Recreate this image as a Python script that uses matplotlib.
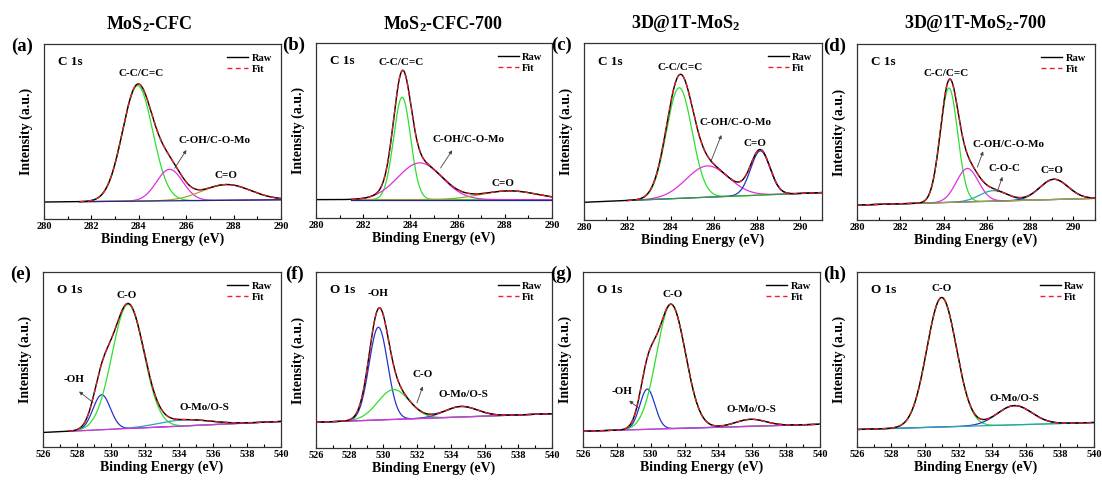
import matplotlib
matplotlib.use("Agg")
import matplotlib.pyplot as plt
import numpy as np

# ---- data (intensity in axes-fraction units) ----
SAMPLES = ["MoS$_2$-CFC", "MoS$_2$-CFC-700", "3D@1T-MoS$_2$", "3D@1T-MoS$_2$-700"]
C_TAGS = ["(a)", "(b)", "(c)", "(d)"]
O_TAGS = ["(e)", "(f)", "(g)", "(h)"]

# C 1s
C_XMAX = [290, 290, 291, 291]
C_FIT_START = [281.5, 281.5, 282.0, 280.0]
C_BASE = [(0.097, 0.11), (0.105, 0.105), (0.10, 0.155), (0.085, 0.123)]
C_CENTERS = [[283.95, 285.3, 287.7], [283.65, 284.4, 288.2],
             [284.4, 285.7, 288.15], [284.25, 285.1, 286.3, 289.1]]
C_HEIGHTS = [[0.66, 0.18, 0.09], [0.585, 0.21, 0.05],
             [0.625, 0.177, 0.25], [0.65, 0.19, 0.06, 0.115]]
C_FWHM = [[1.5, 1.3, 2.4], [0.85, 2.2, 2.8],
          [1.4, 2.3, 1.05], [0.95, 1.2, 1.5, 1.55]]

# O 1s
O_XMAX = [540, 540, 540, 540]
O_FIT_START = [527.5, 526.0, 526.0, 526.0]
O_BASE = [(0.083, 0.146), (0.146, 0.195), (0.09, 0.13), (0.10, 0.14)]
O_CENTERS = [[529.45, 531.0, 534.3], [529.7, 530.6, 534.6],
             [529.8, 531.2, 535.9], [531.0, 535.3]]
O_HEIGHTS = [[0.20, 0.71, 0.035], [0.527, 0.17, 0.06],
             [0.23, 0.71, 0.04], [0.74, 0.11]]
O_FWHM = [[1.2, 2.2, 3.5], [1.3, 2.2, 2.3],
          [1.05, 2.0, 2.1], [2.06, 2.4]]

# peak labels (text, x, y) and arrows ((x0, y0), (x1, y1)) with head at x1,y1
C_LABELS = [
    [("C-C/C=C", 284.1, 0.83), ("C-OH/C-O-Mo", 287.2, 0.45), ("C=O", 287.67, 0.25)],
    [("C-C/C=C", 283.6, 0.886), ("C-OH/C-O-Mo", 286.45, 0.45), ("C=O", 287.9, 0.20)],
    [("C-C/C=C", 284.42, 0.862), ("C-OH/C-O-Mo", 287.0, 0.55), ("C=O", 287.9, 0.43)],
    [("C-C/C=C", 284.1, 0.833), ("C-OH/C-O-Mo", 287.0, 0.43), ("C-O-C", 286.8, 0.294),
     ("C=O", 289.0, 0.28)],
]
C_ARROWS = [
    [((285.51, 0.29), (286.01, 0.394))],
    [((285.28, 0.286), (285.77, 0.387))],
    [((285.86, 0.33), (286.35, 0.48))],
    [((285.56, 0.30), (285.83, 0.39)), ((286.48, 0.16), (286.72, 0.245))],
]
O_LABELS = [
    [("C-O", 530.9, 0.867), ("-OH", 527.8, 0.383), ("O-Mo/O-S", 535.5, 0.226)],
    [("-OH", 529.7, 0.88), ("C-O", 532.3, 0.417), ("O-Mo/O-S", 534.75, 0.303)],
    [("C-O", 531.3, 0.874), ("-OH", 528.3, 0.32), ("O-Mo/O-S", 535.96, 0.215)],
    [("C-O", 531.0, 0.904), ("O-Mo/O-S", 535.3, 0.275)],
]
O_ARROWS = [
    [((528.95, 0.254), (528.12, 0.317))],
    [((531.99, 0.256), (532.33, 0.35))],
    [((529.31, 0.22), (528.73, 0.265))],
    [],
]

GREEN, MAGENTA, BLUE = "#2ee02e", "#e030e0", "#2436c8"
OLIVE, TEAL, NAVY = "#aaa040", "#2aa3b0", "#1c2a80"
C_COLORS = [[GREEN, MAGENTA, OLIVE], [GREEN, MAGENTA, OLIVE],
            [GREEN, MAGENTA, BLUE], [GREEN, MAGENTA, TEAL, BLUE]]
C_BASE_COLOR = [NAVY, NAVY, "#3a9a3a", OLIVE]
O_COLORS = [[BLUE, GREEN, TEAL], [BLUE, GREEN, "#3848a8"],
            [BLUE, GREEN, TEAL], [GREEN, BLUE]]
O_BASE_COLOR = [MAGENTA, MAGENTA, MAGENTA, TEAL]

# axes boxes in pixels: left, top, right, bottom
C_BOXES = [(44, 44, 281, 219), (316, 43, 552, 218), (584, 43, 822, 220), (857, 44, 1095, 220)]
O_BOXES = [(43, 272, 281, 447), (316, 272, 552, 448), (583, 272, 820, 447), (857, 272, 1094, 447)]
TITLE_X = [149, 443, 686, 975]
W, H = 1102, 483

plt.rcParams["font.family"] = "Liberation Serif"
plt.rcParams["font.weight"] = "bold"
plt.rcParams["axes.labelweight"] = "bold"
plt.rcParams["mathtext.fontset"] = "custom"
plt.rcParams["mathtext.rm"] = "Liberation Serif:bold"
plt.rcParams["mathtext.it"] = "Liberation Serif:bold"
plt.rcParams["mathtext.bf"] = "Liberation Serif:bold"


def gauss(x, c, h, fwhm):
    return h * np.exp(-4 * np.log(2) * (x - c) ** 2 / fwhm ** 2)


def draw_panel(fig, box, xmin, xmax, fit_start, base, centers, heights, fwhms,
               colors, base_color, labels, arrows, core, tag):
    l, t, r, b = box
    ax = fig.add_axes([l / W, 1 - b / H, (r - l) / W, (b - t) / H])
    x = np.linspace(xmin, xmax, 800)
    bl = base[0] + (base[1] - base[0]) * (x - xmin) / (xmax - xmin)
    comps = [gauss(x, c, h, w) for c, h, w in zip(centers, heights, fwhms)]
    total = bl + np.sum(comps, axis=0)
    m = x >= fit_start
    for comp, col in zip(comps, colors):
        ax.plot(x[m], bl[m] + comp[m], color=col, lw=0.9)
    ax.plot(x[m], bl[m], color=base_color, lw=0.9)
    ax.plot(x, total, color="black", lw=1.0, label="Raw")
    ax.plot(x[m], total[m], color="#e8202a", lw=1.0, ls=(0, (3.5, 2.5)), label="Fit")

    for txt, tx, ty in labels:
        ax.text(tx, ty, txt, ha="center", va="center", fontsize=8)
    for (x0, y0), (x1, y1) in arrows:
        ax.annotate("", xy=(x1, y1), xytext=(x0, y0),
                    arrowprops=dict(arrowstyle="-|>", color="#444444", lw=0.6,
                                    mutation_scale=5, shrinkA=0, shrinkB=0))
    ax.text(0.06, 0.895, core, transform=ax.transAxes, ha="left", va="center", fontsize=9.5)
    ax.legend(loc="upper right", bbox_to_anchor=(1.0, 1.0), frameon=False, fontsize=7.5,
              handlelength=2.0, handletextpad=0.3, labelspacing=0.15, borderpad=0.4)

    ax.set_xlim(xmin, xmax)
    ax.set_ylim(0, 1)
    ax.set_yticks([])
    ax.set_xticks(np.arange(xmin, xmax + 0.1, 2))
    ax.set_xticks(np.arange(xmin + 1, xmax + 0.1, 2), minor=True)
    ax.tick_params(axis="x", which="both", direction="in", labelsize=7.5, pad=2,
                   width=0.8, top=False)
    ax.tick_params(axis="x", which="major", length=3)
    ax.tick_params(axis="x", which="minor", length=2)
    for s in ax.spines.values():
        s.set_linewidth(0.9)
        s.set_color("#333333")
    ax.set_xlabel("Binding Energy (eV)", fontsize=10, labelpad=1)
    ax.set_ylabel("Intensity (a.u.)", fontsize=10, labelpad=8)
    fig.text((l - 22) / W, 1 - (t + 2) / H, tag, ha="center", va="center", fontsize=13.5)
    return ax


fig = plt.figure(figsize=(W / 100, H / 100), dpi=100)
for i in range(4):
    draw_panel(fig, C_BOXES[i], 280, C_XMAX[i], C_FIT_START[i], C_BASE[i], C_CENTERS[i],
               C_HEIGHTS[i], C_FWHM[i], C_COLORS[i], C_BASE_COLOR[i], C_LABELS[i],
               C_ARROWS[i], "C 1s", C_TAGS[i])
    draw_panel(fig, O_BOXES[i], 526, O_XMAX[i], O_FIT_START[i], O_BASE[i], O_CENTERS[i],
               O_HEIGHTS[i], O_FWHM[i], O_COLORS[i], O_BASE_COLOR[i], O_LABELS[i],
               O_ARROWS[i], "O 1s", O_TAGS[i])
    fig.text(TITLE_X[i] / W, 1 - 24 / H, SAMPLES[i], ha="center", va="center", fontsize=13)

fig.savefig("out.png", dpi=100)
